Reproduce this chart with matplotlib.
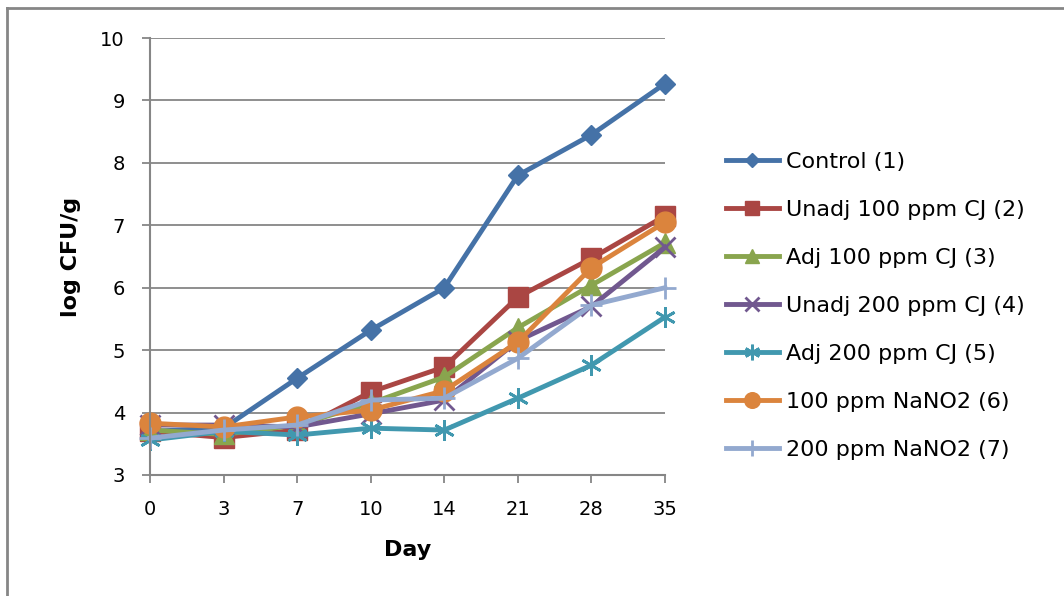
import matplotlib
matplotlib.use("Agg")
import matplotlib.pyplot as plt
from matplotlib.lines import Line2D

plt.rcParams['font.family'] = ['DejaVu Sans']

days = ["0", "3", "7", "10", "14", "21", "28", "35"]

control = [3.7, 3.75, 4.55, 5.32, 6.0, 7.8, 8.45, 9.27]
unadj_100 = [3.7, 3.6, 3.72, 4.33, 4.73, 5.85, 6.47, 7.15]
adj_100 = [3.72, 3.65, 3.8, 4.15, 4.57, 5.36, 6.04, 6.72]
unadj_200 = [3.8, 3.8, 3.77, 3.98, 4.2, 5.15, 5.7, 6.65]
adj_200 = [3.56, 3.7, 3.64, 3.75, 3.72, 4.23, 4.76, 5.53]
nano2_100 = [3.83, 3.77, 3.93, 4.04, 4.35, 5.13, 6.32, 7.05]
nano2_200 = [3.59, 3.72, 3.8, 4.2, 4.23, 4.87, 5.72, 6.0]

series = [
    ("Control (1)", control, "#4572A7", "D", 10),
    ("Unadj 100 ppm CJ (2)", unadj_100, "#AA4643", "s", 14),
    ("Adj 100 ppm CJ (3)", adj_100, "#89A54E", "^", 14),
    ("Unadj 200 ppm CJ (4)", unadj_200, "#71588F", "x", 14),
    ("Adj 200 ppm CJ (5)", adj_200, "#4198AF", (6, 2, 0), 15),
    ("100 ppm NaNO2 (6)", nano2_100, "#DB843D", "o", 15),
    ("200 ppm NaNO2 (7)", nano2_200, "#93A9CF", "+", 16),
]

fig = plt.figure(figsize=(10.64, 5.96), dpi=100)
ax = fig.add_axes([150 / 1064, 1 - 475 / 596, 515 / 1064, 437 / 596])

x = list(range(len(days)))
for name, vals, col, mk, ms in series:
    ax.plot(x, vals, color=col, lw=3.5, marker=mk, markersize=ms,
            markeredgewidth=2 if mk in ("x", "+", (6, 2, 0)) else 1,
            markeredgecolor=col, markerfacecolor=col, label=name, clip_on=False)

ax.set_xlim(0, 7)
ax.set_ylim(3, 10)
ax.set_xticks(x)
ax.set_xticklabels(days)
ax.set_yticks(range(3, 11))
ax.yaxis.grid(True, color="#868686", lw=1.3)
ax.set_axisbelow(True)
for s in ("top", "right"):
    ax.spines[s].set_visible(False)
for s in ("left", "bottom"):
    ax.spines[s].set_color("#868686")
    ax.spines[s].set_linewidth(1.5)
ax.tick_params(axis="y", length=6, width=1.3, color="#868686", pad=12, labelsize=14)
ax.tick_params(axis="x", length=6, width=1.3, color="#868686", pad=12, labelsize=14)

ax.set_ylabel("log CFU/g", fontsize=16, fontweight="bold", labelpad=14)
ax.set_xlabel("Day", fontsize=16, fontweight="bold", labelpad=15)

ax.legend(loc="upper left", bbox_to_anchor=(719 / 1064, 1 - 145 / 596),
          bbox_transform=fig.transFigure, frameon=False, fontsize=16,
          handlelength=2.4, handletextpad=0.3, labelspacing=1.26, markerscale=0.75,
          borderaxespad=0, borderpad=0.3)

# outer chart border (only top and left edges are visible in the crop)
bx, by = 7 / 1064, 1 - 8 / 596
fig.add_artist(Line2D([bx, 1.0], [by, by], transform=fig.transFigure,
                      color="#868686", lw=2))
fig.add_artist(Line2D([bx, bx], [0.0, by], transform=fig.transFigure,
                      color="#868686", lw=2))

fig.savefig("out.png", dpi=100)
